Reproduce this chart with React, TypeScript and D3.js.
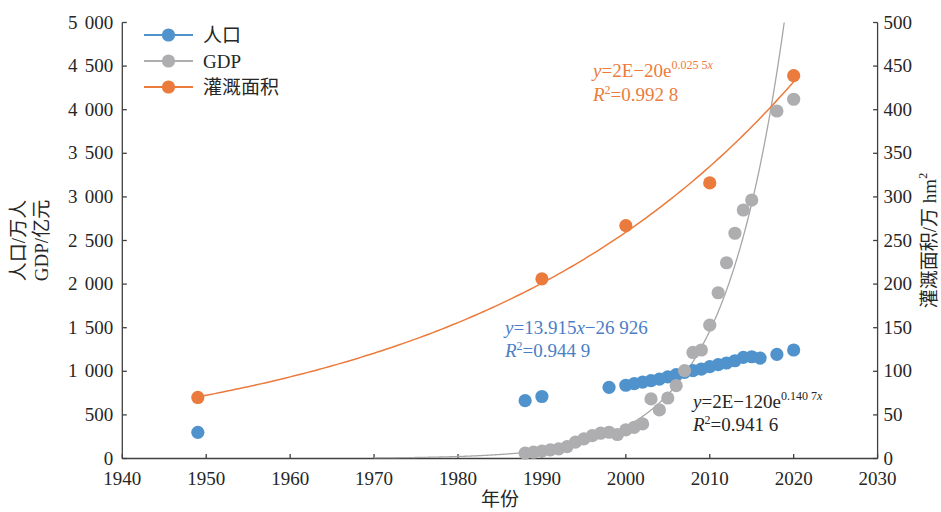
import React from "react";
import * as d3 from "d3";

// ---------- data ----------
const popYears = [1949, 1988, 1990, 1998, 2000, 2001, 2002, 2003, 2004, 2005, 2006, 2007, 2008, 2009, 2010, 2011, 2012, 2013, 2014, 2015, 2016, 2018, 2020];
const popValues = [300, 663, 711, 816, 840, 858, 875, 893, 911, 936, 961, 987, 1007, 1026, 1053, 1076, 1095, 1121, 1159, 1167, 1152, 1194, 1244];

const gdpYears = [1988, 1989, 1990, 1991, 1992, 1993, 1994, 1995, 1996, 1997, 1998, 1999, 2000, 2001, 2002, 2003, 2004, 2005, 2006, 2007, 2008, 2009, 2010, 2011, 2012, 2013, 2014, 2015, 2018, 2020];
const gdpValues = [61, 72, 84, 99, 111, 137, 187, 225, 263, 290, 301, 275, 328, 358, 397, 683, 557, 694, 835, 1007, 1216, 1244, 1530, 1901, 2245, 2583, 2850, 2964, 3985, 4120];

const irrYears = [1949, 1990, 2000, 2010, 2020];
const irrValues = [70, 206, 267, 316, 439];

const xTicks = [1940, 1950, 1960, 1970, 1980, 1990, 2000, 2010, 2020, 2030];
const leftTicks = [0, 500, 1000, 1500, 2000, 2500, 3000, 3500, 4000, 4500, 5000];
const rightTicks = [0, 50, 100, 150, 200, 250, 300, 350, 400, 450, 500];

const seriesNames = ["人口", "GDP", "灌溉面积"];
const COLORS = ["#5093CC", "#AEAEB0", "#EB7B3C"];

// ---------- helpers ----------
function expFit(xs: number[], ys: number[]) {
  const n = xs.length;
  const ly = ys.map((v) => Math.log(v));
  const mx = d3.mean(xs)!;
  const my = d3.mean(ly)!;
  let sxy = 0, sxx = 0;
  for (let i = 0; i < n; i++) {
    sxy += (xs[i] - mx) * (ly[i] - my);
    sxx += (xs[i] - mx) * (xs[i] - mx);
  }
  const b = sxy / sxx;
  const lnA = my - b * mx;
  return (x: number) => Math.exp(lnA + b * x);
}

const fmt = (v: number) => d3.format(",")(v).replace(/,/g, " ");

const SERIF = "Liberation Serif, DejaVu Serif, Noto Sans CJK SC, serif";
const TXT = "#262626";
const AXIS = "#404040";

export default function App() {
  const W = 941, H = 512;
  const x0 = 122.3, x1 = 877.6, yTop = 22.5, yBot = 458.5;
  const x = d3.scaleLinear().domain([1940, 2030]).range([x0, x1]);
  const yL = d3.scaleLinear().domain([0, 5000]).range([yBot, yTop]);
  const yR = d3.scaleLinear().domain([0, 500]).range([yBot, yTop]);

  const irrFit = expFit(irrYears, irrValues);
  const gdpFit = expFit(gdpYears, gdpValues);

  const irrLine = d3.line<number>().x((t) => x(t)).y((t) => yR(irrFit(t)));
  const gdpLine = d3.line<number>().x((t) => x(t)).y((t) => yL(gdpFit(t)));
  const irrT = d3.range(1949, 2020.001, 0.5);
  const gdpT = d3.range(1970, 2020.001, 0.1);

  const r = 6.6;
  const fs = 19;

  return (
    <svg width={W} height={H} style={{ display: "block", position: "absolute", left: 0, top: 0, fontFamily: SERIF }}>
      <defs>
        <clipPath id="plot">
          <rect x={x0} y={yTop} width={x1 - x0} height={yBot - yTop} />
        </clipPath>
      </defs>

      {/* axes */}
      <g stroke={AXIS} strokeWidth={1.3} fill="none">
        <line x1={x0} y1={yTop} x2={x0} y2={yBot} />
        <line x1={x1} y1={yTop} x2={x1} y2={yBot} />
        <line x1={x0} y1={yBot} x2={x1} y2={yBot} />
        {leftTicks.map((t) => (
          <line key={"lt" + t} x1={x0} x2={x0 + 4.5} y1={yL(t)} y2={yL(t)} />
        ))}
        {rightTicks.map((t) => (
          <line key={"rt" + t} x1={x1} x2={x1 - 4.5} y1={yR(t)} y2={yR(t)} />
        ))}
        {xTicks.map((t) => (
          <line key={"xt" + t} x1={x(t)} x2={x(t)} y1={yBot} y2={yBot - 4.5} />
        ))}
      </g>

      {/* tick labels */}
      <g fontSize={fs} fill={TXT}>
        {leftTicks.map((t) => (
          <text key={"ll" + t} x={x0 - 9} y={yL(t)} dy="0.32em" textAnchor="end" style={{ wordSpacing: "2.5px" }}>
            {fmt(t)}
          </text>
        ))}
        {rightTicks.map((t) => (
          <text key={"rl" + t} x={x1 + 6} y={yR(t)} dy="0.32em" textAnchor="start">
            {t}
          </text>
        ))}
        {xTicks.map((t) => (
          <text key={"xl" + t} x={x(t)} y={485} textAnchor="middle">
            {t}
          </text>
        ))}
      </g>

      {/* axis titles */}
      <text x={(x0 + x1) / 2} y={506} textAnchor="middle" fontSize={fs} fill={TXT}>年份</text>
      <g transform={`translate(18,${(yTop + yBot) / 2}) rotate(-90)`} fontSize={fs} fill={TXT}>
        <text x={0} y={0} textAnchor="middle" dy="0.35em">人口/万人</text>
        <text x={0} y={23} textAnchor="middle" dy="0.35em">GDP/亿元</text>
      </g>
      <g transform={`translate(929,${(yTop + yBot) / 2}) rotate(-90)`} fontSize={fs} fill={TXT}>
        <text x={0} y={0} textAnchor="middle" dy="0.35em">
          灌溉面积/万 hm<tspan fontSize={12} dy="-0.7em">2</tspan>
        </text>
      </g>

      {/* trendlines */}
      <g clipPath="url(#plot)" fill="none">
        <path d={gdpLine(gdpT)!} stroke="#A6A6A6" strokeWidth={1.3} />
        <path d={irrLine(irrT)!} stroke={COLORS[2]} strokeWidth={1.5} />
      </g>

      {/* markers */}
      <g>
        {popYears.map((t, i) => (
          <circle key={"p" + t} cx={x(t)} cy={yL(popValues[i])} r={r} fill={COLORS[0]} />
        ))}
        {gdpYears.map((t, i) => (
          <circle key={"g" + t} cx={x(t)} cy={yL(gdpValues[i])} r={r} fill={COLORS[1]} />
        ))}
        {irrYears.map((t, i) => (
          <circle key={"i" + t} cx={x(t)} cy={yR(irrValues[i])} r={r} fill={COLORS[2]} />
        ))}
      </g>

      {/* equations */}
      <g fontSize={fs} fill="#EC7C3D">
        <text x={593} y={77}>
          <tspan fontStyle="italic">y</tspan>=2E−20e<tspan fontSize={12} dy="-8">0.025 5</tspan><tspan fontSize={12} fontStyle="italic">x</tspan>
        </text>
        <text x={593} y={101}>
          <tspan fontStyle="italic">R</tspan><tspan fontSize={12} dy="-7">2</tspan><tspan dy="7">=0.992 8</tspan>
        </text>
      </g>
      <g fontSize={fs} fill="#4A7EC6">
        <text x={505} y={334}>
          <tspan fontStyle="italic">y</tspan>=13.915<tspan fontStyle="italic">x</tspan>−26 926
        </text>
        <text x={505} y={357}>
          <tspan fontStyle="italic">R</tspan><tspan fontSize={12} dy="-7">2</tspan><tspan dy="7">=0.944 9</tspan>
        </text>
      </g>
      <g fontSize={fs} fill={TXT}>
        <text x={693} y={408}>
          <tspan fontStyle="italic">y</tspan>=2E−120e<tspan fontSize={12} dy="-8">0.140 7</tspan><tspan fontSize={12} fontStyle="italic">x</tspan>
        </text>
        <text x={693} y={431}>
          <tspan fontStyle="italic">R</tspan><tspan fontSize={12} dy="-7">2</tspan><tspan dy="7">=0.941 6</tspan>
        </text>
      </g>

      {/* legend */}
      <g>
        {seriesNames.map((s, i) => {
          const ly = 35 + i * 26;
          return (
            <g key={s}>
              <line x1={144} x2={193} y1={ly} y2={ly} stroke={COLORS[i]} strokeWidth={2} />
              <circle cx={168.5} cy={ly} r={r} fill={COLORS[i]} />
              <text x={203} y={ly} dy="0.35em" fontSize={fs} fill={TXT}>{s}</text>
            </g>
          );
        })}
      </g>
    </svg>
  );
}
